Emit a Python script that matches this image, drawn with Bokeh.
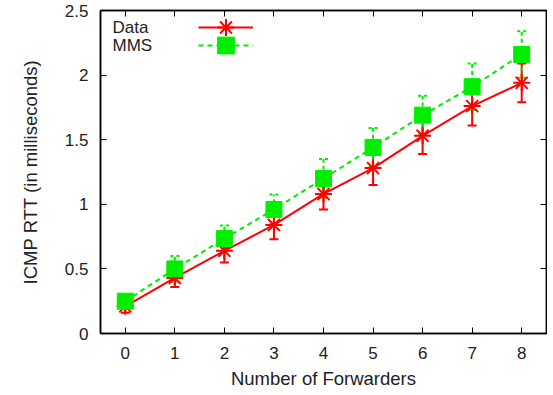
from bokeh.plotting import figure
from bokeh.models import (Whisker, ColumnDataSource, LinearAxis, FixedTicker,
                          Legend, LegendItem, Label, TeeHead, Range1d)
from bokeh.embed import file_html
from bokeh.resources import INLINE

forwarders = [0, 1, 2, 3, 4, 5, 6, 7, 8]
data_rtt = [0.21, 0.43, 0.64, 0.84, 1.08, 1.28, 1.53, 1.76, 1.94]
data_err = [0.05, 0.07, 0.09, 0.11, 0.12, 0.13, 0.14, 0.15, 0.15]
mms_rtt = [0.25, 0.50, 0.735, 0.96, 1.20, 1.44, 1.69, 1.91, 2.16]
mms_err = [0.03, 0.10, 0.10, 0.115, 0.15, 0.15, 0.15, 0.18, 0.18]
x_ticks = [0, 1, 2, 3, 4, 5, 6, 7, 8]
y_ticks = [0, 0.5, 1, 1.5, 2, 2.5]
y_tick_labels = ["0", "0.5", "1", "1.5", "2", "2.5"]
series_names = ["Data", "MMS"]

RED = "#ff0000"
GREEN = "#00ee00"
FONT = "Liberation Sans"
TXT = "#222222"

W, H = 547, 392
BL, BR, BT, BB = 100, 1, 10, 59
frame_h = H - BT - BB

src_d = ColumnDataSource(dict(x=forwarders, y=data_rtt,
                              lo=[v - e for v, e in zip(data_rtt, data_err)],
                              hi=[v + e for v, e in zip(data_rtt, data_err)]))
src_m = ColumnDataSource(dict(x=forwarders, y=mms_rtt,
                              lo=[v - e for v, e in zip(mms_rtt, mms_err)],
                              hi=[v + e for v, e in zip(mms_rtt, mms_err)]))

p = figure(width=W, height=H, output_backend="svg", toolbar_location=None,
           x_range=Range1d(-0.5, 8.5), y_range=Range1d(0, 2.5),
           min_border_left=BL, min_border_right=BR, min_border_top=BT,
           min_border_bottom=BB, background_fill_color="white",
           border_fill_color="white")
p.grid.visible = False
p.outline_line_color = "black"
p.outline_line_width = 1.5

for ax in (p.xaxis[0], p.yaxis[0]):
    ax.major_tick_in = 6
    ax.major_tick_out = 0
    ax.minor_tick_line_color = None
    ax.axis_line_color = "black"
    ax.axis_line_width = 1.5
    ax.major_tick_line_color = "black"
    ax.major_tick_line_width = 1
    ax.major_label_text_font = FONT
    ax.major_label_text_font_size = "17px"
    ax.major_label_text_color = TXT
    ax.axis_label_text_font = FONT
    ax.axis_label_text_font_size = "18.5px"
    ax.axis_label_text_font_style = "normal"
    ax.axis_label_text_color = TXT

p.xaxis[0].ticker = FixedTicker(ticks=x_ticks)
p.yaxis[0].ticker = FixedTicker(ticks=y_ticks)
p.yaxis[0].major_label_overrides = {t: l for t, l in zip(y_ticks, y_tick_labels)}
p.xaxis[0].axis_label = "Number of Forwarders"
p.yaxis[0].axis_label = "ICMP RTT (in milliseconds)"
p.xaxis[0].major_label_standoff = 13
p.xaxis[0].axis_label_standoff = 6
p.yaxis[0].major_label_standoff = 12
p.yaxis[0].axis_label_standoff = 21

# mirrored ticks on top and right (no labels)
top = LinearAxis(ticker=FixedTicker(ticks=x_ticks), major_tick_in=6, major_tick_out=0,
                 minor_tick_line_color=None, major_label_text_color=None,
                 major_label_standoff=0, axis_line_color="black", axis_line_width=1.5)
right = LinearAxis(ticker=FixedTicker(ticks=y_ticks), major_tick_in=6, major_tick_out=0,
                   minor_tick_line_color=None, major_label_text_color=None,
                   major_label_standoff=0, axis_line_color="black", axis_line_width=1.5)
p.add_layout(top, "above")
p.add_layout(right, "right")

# Data series
l_d = p.line("x", "y", source=src_d, line_color=RED, line_width=2)
p.add_layout(Whisker(source=src_d, base="x", lower="lo", upper="hi",
                     line_color=RED, line_width=2,
                     upper_head=TeeHead(size=9, line_color=RED, line_width=2),
                     lower_head=TeeHead(size=9, line_color=RED, line_width=2)))
s_d = p.scatter("x", "y", source=src_d, marker="asterisk", size=17,
                line_color=RED, line_width=2)

# MMS series
l_m = p.line("x", "y", source=src_m, line_color=GREEN, line_width=2, line_dash="5 4")
p.add_layout(Whisker(source=src_m, base="x", lower="lo", upper="hi",
                     line_color=GREEN, line_width=2, line_dash="4 3",
                     upper_head=TeeHead(size=9, line_color=GREEN, line_width=2, line_dash="3 3"),
                     lower_head=TeeHead(size=9, line_color=GREEN, line_width=2, line_dash="3 3")))
s_m = p.scatter("x", "y", source=src_m, marker="square", size=16,
                fill_color=GREEN, line_color=GREEN, line_width=1)

# legend: one small legend per series (glyph only), names as labels on the left
GH = 42
row_offsets = [17, 35]  # px below frame top
for (ln, sc), off in zip([(l_d, s_d), (l_m, s_m)], row_offsets):
    lg = Legend(items=[LegendItem(label=" ", renderers=[ln, sc])],
                location=(98, frame_h - (off - GH / 2) - GH),
                glyph_width=55, glyph_height=GH,
                label_height=17, label_width=1, label_standoff=0,
                label_text_font_size="1px", spacing=0, padding=0, margin=0,
                border_line_color=None, background_fill_alpha=0)
    p.add_layout(lg)

for name, off in zip(series_names, row_offsets):
    p.add_layout(Label(x=12, y=frame_h - off, x_units="screen", y_units="screen",
                       text=name, text_font=FONT, text_font_size="17px",
                       text_color=TXT, text_baseline="middle", text_align="left"))

open("out.html", "w").write(file_html(p, INLINE))
